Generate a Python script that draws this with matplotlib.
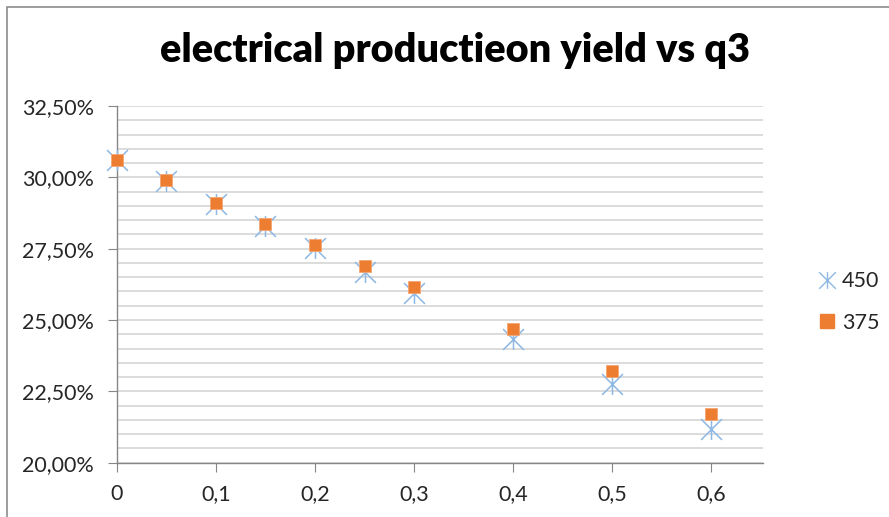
import matplotlib
matplotlib.use("Agg")
import matplotlib.pyplot as plt
from matplotlib.path import Path
from matplotlib.patches import Rectangle
from matplotlib.ticker import MultipleLocator, FuncFormatter
from matplotlib.lines import Line2D

# data (yield in %)
q3 = [0, 0.05, 0.1, 0.15, 0.2, 0.25, 0.3, 0.4, 0.5, 0.6]
y450 = [30.61, 29.87, 29.08, 28.30, 27.52, 26.70, 25.94, 24.33, 22.76, 21.18]
y375 = [30.61, 29.91, 29.10, 28.37, 27.63, 26.90, 26.17, 24.69, 23.20, 21.72]
series_names = ["450", "375"]

plt.rcParams['font.family'] = ['Lato', 'DejaVu Sans']

blue = '#8db8e3'
orange = '#ed7d31'

# excel-like star marker: X plus vertical bar
star = Path([(-1, -1), (1, 1), (-1, 1), (1, -1), (0, -1), (0, 1)],
            [Path.MOVETO, Path.LINETO, Path.MOVETO, Path.LINETO, Path.MOVETO, Path.LINETO])

fig = plt.figure(figsize=(8.89, 5.17), dpi=100)
ax = fig.add_axes([0.1313, 0.105, 0.8583 - 0.1313, 0.795 - 0.105])

# outer chart border (only top and left visible in the reference)
fig.add_artist(Rectangle((7 / 889, -0.1), 1.2, 1 - 7 / 517 + 0.1, transform=fig.transFigure,
                         fill=False, edgecolor='#8c8c8c', linewidth=1.2))

ax.plot(q3, y450, linestyle='none', marker=star, markersize=15, markeredgewidth=1.1,
        color=blue, label=series_names[0], zorder=3, clip_on=False)
ax.plot(q3, y375, linestyle='none', marker='s', markersize=9, color=orange,
        markeredgecolor='#f4a674', markeredgewidth=0.6, label=series_names[1], zorder=4,
        clip_on=False)

ax.set_xlim(0, 0.652)
ax.set_ylim(20, 32.5)
ax.xaxis.set_major_locator(MultipleLocator(0.1))
ax.yaxis.set_major_locator(MultipleLocator(2.5))
ax.yaxis.set_minor_locator(MultipleLocator(0.5))
ax.yaxis.set_major_formatter(FuncFormatter(lambda v, p: f"{v:.2f}%".replace('.', ',')))
ax.xaxis.set_major_formatter(FuncFormatter(lambda v, p: "0" if abs(v) < 1e-9 else f"{v:.1f}".replace('.', ',')))

ax.grid(True, which='both', axis='y', color='#d9d9d9', linewidth=1.3)
ax.set_axisbelow(True)
for s in ['top', 'right']:
    ax.spines[s].set_visible(False)
for s in ['left', 'bottom']:
    ax.spines[s].set_color('#868686')
    ax.spines[s].set_linewidth(1.0)
ax.tick_params(which='major', length=6.5, color='#868686', labelsize=15.5, labelcolor='#262626')
ax.tick_params(axis='y', pad=10)
ax.tick_params(axis='x', pad=9)
ax.tick_params(which='minor', length=0)

fig.text(0.512, 0.903, "electrical productieon yield vs q3", ha='center', va='center',
         fontsize=28.5, fontweight='heavy', color='black')

handles = [Line2D([], [], linestyle='none', marker=star, markersize=12, markeredgewidth=1.0, color=blue),
           Line2D([], [], linestyle='none', marker='s', markersize=10, color=orange)]
fig.legend(handles, series_names, loc='center left', bbox_to_anchor=(0.908, 0.416),
           frameon=False, fontsize=15.5, handlelength=0.8, handletextpad=0.3, labelspacing=1.0,
           borderpad=0, labelcolor='#262626')

fig.savefig("out.png", dpi=100)
